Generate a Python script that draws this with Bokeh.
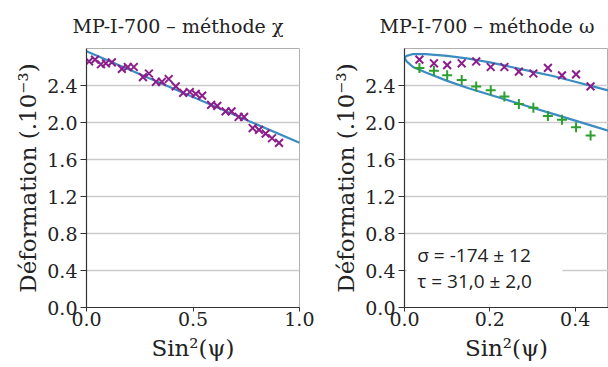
from bokeh.plotting import figure
from bokeh.layouts import row
from bokeh.models import FixedTicker, PrintfTickFormatter, Range1d, Label, BoxAnnotation
from bokeh.embed import file_html
from bokeh.resources import INLINE

# ---------------- data ----------------
# Left panel: méthode chi
chi_x = [0.012, 0.040, 0.068, 0.091, 0.119, 0.166, 0.194, 0.222, 0.265, 0.293,
         0.326, 0.354, 0.386, 0.419, 0.454, 0.485, 0.513, 0.543, 0.585, 0.614,
         0.653, 0.681, 0.714, 0.740, 0.780, 0.810, 0.841, 0.871, 0.904]
chi_y = [2.66, 2.68, 2.63, 2.64, 2.65, 2.58, 2.60, 2.60, 2.49, 2.53,
         2.44, 2.44, 2.47, 2.39, 2.32, 2.33, 2.31, 2.29, 2.19, 2.18,
         2.12, 2.12, 2.06, 2.06, 1.94, 1.92, 1.88, 1.83, 1.78]
chi_fit_x = [0.0, 1.0]
chi_fit_y = [2.77, 1.78]

# Right panel: méthode omega
om_x = [0.035, 0.069, 0.100, 0.134, 0.168, 0.202, 0.234, 0.268, 0.302, 0.336,
        0.369, 0.402, 0.436]
om_pos_y = [2.68, 2.64, 2.62, 2.64, 2.66, 2.60, 2.60, 2.55, 2.53, 2.59,
            2.51, 2.52, 2.39]
om_neg_y = [2.59, 2.56, 2.51, 2.46, 2.39, 2.35, 2.28, 2.20, 2.16, 2.07,
            2.03, 1.95, 1.86]
fit_s = [0.0, 0.005, 0.02, 0.05, 0.10, 0.15, 0.20, 0.25, 0.30, 0.35, 0.40, 0.45, 0.50]
fit_upper = [2.70, 2.72, 2.74, 2.74, 2.72, 2.69, 2.65, 2.60, 2.55, 2.50, 2.44, 2.38, 2.32]
fit_lower = [2.70, 2.66, 2.60, 2.54, 2.45, 2.37, 2.30, 2.23, 2.16, 2.09, 2.02, 1.95, 1.88]

y_ticks = [0.0, 0.4, 0.8, 1.2, 1.6, 2.0, 2.4]
left_x_ticks = [0.0, 0.5, 1.0]
right_x_ticks = [0.0, 0.2, 0.4]

title_left = "MP-I-700 – méthode χ"
title_right = "MP-I-700 – méthode ω"
x_label = "Sin²(ψ)"
y_label = "Déformation (.10⁻³)"
annot_lines = ["σ = -174 ± 12", "τ = 31,0 ± 2,0"]

PURPLE = "#8b1e8b"
GREEN = "#2ca02c"
BLUE = "#3b8cc0"
SERIF = "DejaVu Serif"


def style(p, xticks, title_offset):
    p.title.text_font = SERIF
    p.title.text_font_size = "19px"
    p.title.text_font_style = "normal"
    p.title.text_color = "#222222"
    p.title.align = "left"
    p.title.offset = title_offset
    p.title.standoff = 10
    p.title.padding = 7
    p.outline_line_color = "#b0b0b0"
    p.outline_line_width = 1
    p.background_fill_color = None
    p.border_fill_color = None
    p.xgrid.visible = False
    p.ygrid.grid_line_color = "#cccccc"
    p.ygrid.grid_line_width = 1.5
    for ax in (p.xaxis[0], p.yaxis[0]):
        ax.axis_line_color = "#333333"
        ax.axis_line_width = 1.2
        ax.major_tick_line_color = "#333333"
        ax.major_tick_in = 0
        ax.minor_tick_line_color = None
        ax.major_label_text_font = SERIF
        ax.major_label_text_font_size = "19px"
        ax.major_label_text_color = "#222222"
        ax.axis_label_text_font = SERIF
        ax.axis_label_text_font_size = "23px"
        ax.axis_label_text_font_style = "normal"
        ax.axis_label_text_color = "#222222"
        ax.formatter = PrintfTickFormatter(format="%.1f")
    p.xaxis[0].ticker = FixedTicker(ticks=xticks)
    p.yaxis[0].ticker = FixedTicker(ticks=y_ticks)
    p.xaxis[0].major_tick_out = 4
    p.yaxis[0].major_tick_out = 6
    p.xaxis[0].major_label_standoff = 0
    p.yaxis[0].major_label_standoff = 3
    p.xaxis[0].axis_label_standoff = 6
    p.yaxis[0].axis_label_standoff = 3
    p.xaxis[0].axis_label = x_label
    p.yaxis[0].axis_label = y_label


# ---------------- left figure ----------------
p1 = figure(width=314, height=367, output_backend="svg", toolbar_location=None,
            x_range=Range1d(0.0, 1.0), y_range=Range1d(0.0, 2.8),
            min_border_left=86, min_border_right=15, min_border_top=46,
            min_border_bottom=60, title=title_left)
style(p1, left_x_ticks, -21)
p1.line(chi_fit_x, chi_fit_y, line_color=BLUE, line_width=2.2)
p1.scatter(chi_x, chi_y, marker="x", size=11, line_width=2, line_color=PURPLE)

# ---------------- right figure ----------------
p2 = figure(width=294, height=367, output_backend="svg", toolbar_location=None,
            x_range=Range1d(0.0, 0.478), y_range=Range1d(0.0, 2.8),
            min_border_left=90, min_border_right=0, min_border_top=46,
            min_border_bottom=60, title=title_right)
style(p2, right_x_ticks, -32)
p2.line(fit_s, fit_upper, line_color=BLUE, line_width=2.2)
p2.line(fit_s, fit_lower, line_color=BLUE, line_width=2.2)
p2.scatter(om_x, om_pos_y, marker="x", size=11, line_width=2, line_color=PURPLE)
p2.scatter(om_x, om_neg_y, marker="cross", size=10, line_width=2, line_color=GREEN)

p2.add_layout(BoxAnnotation(left=0.005, right=0.37, bottom=0.12, top=0.74,
                            fill_color="white", fill_alpha=1.0, line_color=None))
p2.add_layout(Label(x=0.03, y=0.43, text=annot_lines[0], text_font="Open Sans",
                    text_font_size="19px", text_color="#222222"))
p2.add_layout(Label(x=0.03, y=0.15, text=annot_lines[1], text_font="Open Sans",
                    text_font_size="19px", text_color="#222222"))

layout = row(p1, p2, spacing=0)
open("out.html", "w").write(file_html(layout, INLINE))
